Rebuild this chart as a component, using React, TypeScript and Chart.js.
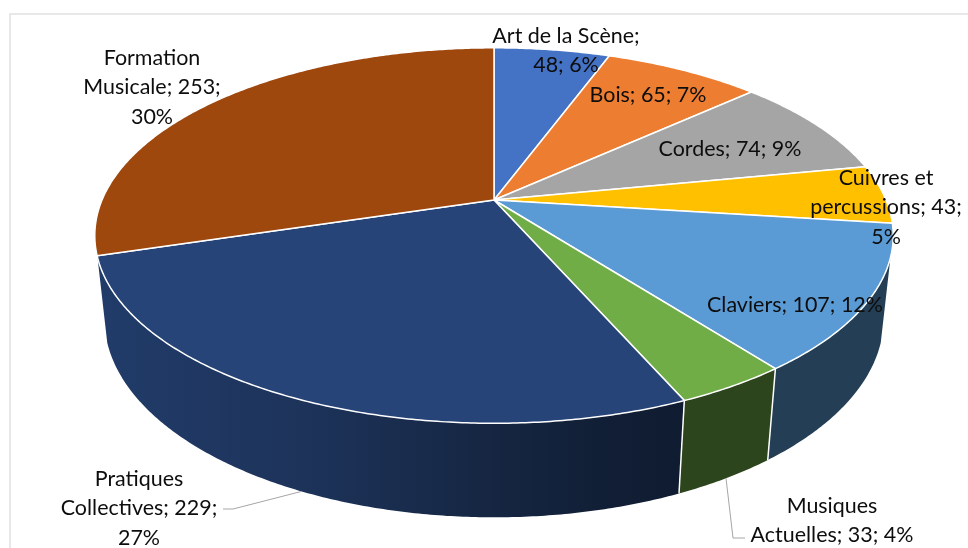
import React, { useEffect, useRef } from 'react';
import { Chart, registerables } from 'chart.js';

Chart.register(...registerables);

// ---------- data ----------
const categories = [
  'Art de la Scène',
  'Bois',
  'Cordes',
  'Cuivres et percussions',
  'Claviers',
  'Musiques Actuelles',
  'Pratiques Collectives',
  'Formation Musicale',
];
const values = [48, 65, 74, 43, 107, 33, 229, 253];
const percentLabels = [6, 7, 9, 5, 12, 4, 27, 30];
const sliceColors = ['#4472C4', '#ED7D31', '#A5A5A5', '#FFC000', '#5B9BD5', '#70AD47', '#264478', '#9E480E'];

// ---------- label layout (centre x, centre y of first line, wrap width, leader end points) ----------
const labelLayout: { x: number; y: number; w: number; leader?: number[][] }[] = [
  { x: 566, y: 35, w: 170 },
  { x: 648, y: 94, w: 400 },
  { x: 730, y: 148, w: 400 },
  { x: 886, y: 177, w: 170 },
  { x: 795, y: 304, w: 400 },
  { x: 832, y: 505, w: 180, leader: [[733, 538], [745, 538]] },
  { x: 139, y: 478, w: 175, leader: [[233, 509], [223, 509]] },
  { x: 152, y: 57, w: 160 },
];

// ---------- 3D view ----------
const VIEW = { tilt: (27.5 * Math.PI) / 180, perspective: 0.2134, thickness: 0.241 };
const SIDE_MARGIN = (3.5 * Math.PI) / 180;
const SEPARATOR_MARGIN = (5 * Math.PI) / 180;
const SIDE_SHADE = [
  [0, 0.88],
  [0.26, 0.75],
  [0.48, 0.57],
  [0.63, 0.45],
  [0.74, 0.4],
  [1, 0.4],
];
const FONT_FAMILY = 'Lato, "Open Sans", sans-serif';
const FONT_FIT = { text: 'Cordes; 74; 9%', width: 143 };
const LINE_HEIGHT = 29.5;
const TEXT_COLOR = '#0d0d0d';

function rgbOf(hex: string) {
  const n = parseInt(hex.slice(1), 16);
  return [(n >> 16) & 255, (n >> 8) & 255, n & 255];
}
function shade(hex: string, f: number) {
  const [r, g, b] = rgbOf(hex);
  return `rgb(${Math.round(r * f)},${Math.round(g * f)},${Math.round(b * f)})`;
}

function makeProjector(chart: any) {
  const arcs = chart.getDatasetMeta(0).data as any[];
  const cx = arcs[0].x;
  const cy = arcs[0].y;
  const R = arcs[0].outerRadius;
  const sA = Math.sin(VIEW.tilt);
  const cA = Math.cos(VIEW.tilt);
  const k = VIEW.perspective;
  const T = VIEW.thickness;
  const proj = (phi: number, h: number, r = 1) => {
    const X = r * Math.cos(phi);
    const Z = r * Math.sin(phi);
    const q = 1 - k * (Z * cA - h * T * sA);
    return [cx + (R * X) / q, cy + (R * (Z * sA + h * T * cA)) / q];
  };
  const phiMin = Math.asin(Math.min(1, k / cA));
  return { arcs, cx, cy, R, proj, phiMin, phiMax: Math.PI - phiMin };
}

function rimPoints(proj: any, a0: number, a1: number, h: number) {
  const n = Math.max(2, Math.ceil(Math.abs(a1 - a0) / (Math.PI / 360)));
  const pts: number[][] = [];
  for (let i = 0; i <= n; i++) pts.push(proj(a0 + ((a1 - a0) * i) / n, h));
  return pts;
}

const pie3d = {
  id: 'pie3d',
  beforeDraw(chart: any) {
    const { ctx } = chart;
    ctx.save();
    ctx.fillStyle = '#ffffff';
    ctx.fillRect(0, 0, chart.width, chart.height);
    ctx.strokeStyle = '#d9d9d9';
    ctx.lineWidth = 1.2;
    ctx.strokeRect(10, 14, chart.width + 40, chart.height + 40);
    ctx.restore();
  },
  beforeDatasetsDraw(chart: any) {
    const meta = chart.getDatasetMeta(0);
    if (!meta.data.length) return false;
    const { ctx } = chart;
    const { arcs, cx, R, proj, phiMin, phiMax } = makeProjector(chart);
    ctx.save();
    ctx.lineJoin = 'round';

    // side walls (front-facing part of the rim)
    arcs.forEach((arc: any, i: number) => {
      const lo = Math.max(arc.startAngle, phiMin + SIDE_MARGIN);
      const hi = Math.min(arc.endAngle, phiMax - SIDE_MARGIN);
      if (hi <= lo) return;
      const top = rimPoints(proj, lo, hi, 0);
      const bottom = rimPoints(proj, hi, lo, 1);
      ctx.beginPath();
      [...top, ...bottom].forEach((p, j) => (j ? ctx.lineTo(p[0], p[1]) : ctx.moveTo(p[0], p[1])));
      ctx.closePath();
      const g = ctx.createLinearGradient(cx - R * 1.02, 0, cx + R * 1.02, 0);
      SIDE_SHADE.forEach(([t, f]) => g.addColorStop(t, shade(sliceColors[i], f)));
      ctx.fillStyle = g;
      ctx.fill();
    });
    // vertical separators on the side wall
    ctx.strokeStyle = '#ffffff';
    ctx.lineWidth = 1.5;
    arcs.forEach((arc: any) => {
      const a = arc.startAngle;
      if (a > phiMin + SEPARATOR_MARGIN && a < phiMax - SEPARATOR_MARGIN) {
        const p0 = proj(a, 0);
        const p1 = proj(a, 1);
        ctx.beginPath();
        ctx.moveTo(p0[0], p0[1]);
        ctx.lineTo(p1[0], p1[1]);
        ctx.stroke();
      }
    });

    // top faces
    arcs.forEach((arc: any, i: number) => {
      const c = proj(0, 0, 0);
      const pts = rimPoints(proj, arc.startAngle, arc.endAngle, 0);
      ctx.beginPath();
      ctx.moveTo(c[0], c[1]);
      pts.forEach((p) => ctx.lineTo(p[0], p[1]));
      ctx.closePath();
      ctx.fillStyle = arc.options.backgroundColor || sliceColors[i];
      ctx.fill();
      ctx.strokeStyle = '#ffffff';
      ctx.lineWidth = 1.5;
      ctx.stroke();
    });
    ctx.restore();
    return false;
  },
  afterDraw(chart: any) {
    const meta = chart.getDatasetMeta(0);
    if (!meta.data.length) return;
    const { ctx } = chart;
    const { arcs, proj } = makeProjector(chart);
    ctx.save();
    ctx.font = `100px ${FONT_FAMILY}`;
    const fontPx = (100 * FONT_FIT.width) / ctx.measureText(FONT_FIT.text).width;
    ctx.font = `${fontPx.toFixed(2)}px ${FONT_FAMILY}`;
    const capH = ctx.measureText('H').actualBoundingBoxAscent || fontPx * 0.68;

    // leader lines
    ctx.strokeStyle = '#a6a6a6';
    ctx.lineWidth = 1;
    arcs.forEach((arc: any, i: number) => {
      const lay = labelLayout[i];
      if (!lay.leader) return;
      const start = proj((arc.startAngle + arc.endAngle) / 2, 1);
      ctx.beginPath();
      ctx.moveTo(start[0], start[1]);
      lay.leader.forEach((p) => ctx.lineTo(p[0], p[1]));
      ctx.stroke();
    });

    // data labels
    ctx.fillStyle = TEXT_COLOR;
    ctx.textAlign = 'center';
    ctx.textBaseline = 'alphabetic';
    categories.forEach((name, i) => {
      const lay = labelLayout[i];
      const words = `${name}; ${values[i]}; ${percentLabels[i]}%`.split(' ');
      const lines: string[] = [];
      let cur = '';
      words.forEach((w) => {
        const trial = cur ? `${cur} ${w}` : w;
        if (cur && ctx.measureText(trial).width > lay.w) {
          lines.push(cur);
          cur = w;
        } else cur = trial;
      });
      if (cur) lines.push(cur);
      lines.forEach((line, j) => {
        ctx.fillText(line, lay.x, lay.y + j * LINE_HEIGHT + capH / 2);
      });
    });
    ctx.restore();
  },
};

export default function App() {
  const canvasRef = useRef<HTMLCanvasElement | null>(null);
  useEffect(() => {
    if (!canvasRef.current) return;
    const chart = new Chart(canvasRef.current, {
      type: 'pie',
      data: {
        labels: categories,
        datasets: [
          {
            data: values,
            backgroundColor: sliceColors,
            borderColor: '#ffffff',
            borderWidth: 1.5,
            radius: 392,
          } as any,
        ],
      },
      options: {
        responsive: false,
        animation: false,
        layout: { padding: { left: 20, right: 0, top: 0, bottom: 148 } },
        plugins: { legend: { display: false }, tooltip: { enabled: false } },
        events: [],
      },
      plugins: [pie3d as any],
    });
    return () => chart.destroy();
  }, []);
  return (
    <div style={{ position: 'fixed', left: 0, top: 0, width: 968, height: 548, background: '#fff' }}>
      <canvas ref={canvasRef} width={968} height={548} style={{ display: 'block', width: 968, height: 548 }} />
    </div>
  );
}
